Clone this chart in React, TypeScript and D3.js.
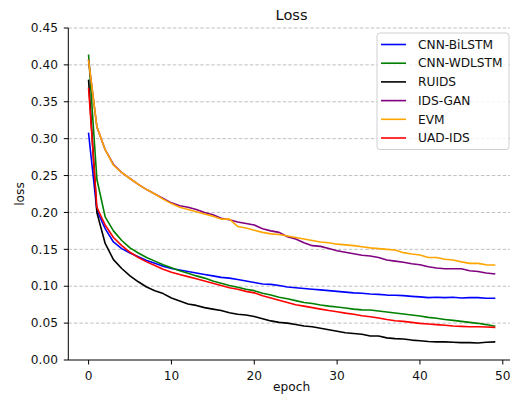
import React, { useEffect, useRef } from 'react'
import * as d3 from 'd3'

// loss per epoch
const epochs = d3.range(0, 50)

const cnnBiLstm = [
  0.307, 0.203, 0.178, 0.16, 0.151, 0.145, 0.14, 0.135, 0.131, 0.127,
  0.124, 0.122, 0.12, 0.118, 0.116, 0.114, 0.112, 0.111, 0.109, 0.107,
  0.105, 0.103, 0.1025, 0.101, 0.099, 0.098, 0.097, 0.096, 0.095, 0.094,
  0.093, 0.092, 0.091, 0.0905, 0.0895, 0.089, 0.088, 0.0878, 0.0873, 0.0863,
  0.0855, 0.0845, 0.085, 0.0845, 0.085, 0.084, 0.0845, 0.0845, 0.0836, 0.0836,
]
const cnnWdLstm = [
  0.413, 0.245, 0.194, 0.175, 0.162, 0.152, 0.145, 0.139, 0.134, 0.129,
  0.125, 0.121, 0.1175, 0.114, 0.111, 0.107, 0.104, 0.101, 0.0985, 0.096,
  0.094, 0.0905, 0.088, 0.085, 0.083, 0.0805, 0.078, 0.0765, 0.0745, 0.073,
  0.0718, 0.0705, 0.069, 0.068, 0.0678, 0.0664, 0.065, 0.0637, 0.0623, 0.061,
  0.0596, 0.0578, 0.0565, 0.055, 0.0537, 0.0524, 0.051, 0.0497, 0.048, 0.046,
]
const ruids = [
  0.379, 0.2, 0.158, 0.136, 0.124, 0.114, 0.106, 0.099, 0.094, 0.09,
  0.084, 0.08, 0.076, 0.074, 0.071, 0.069, 0.067, 0.064, 0.062, 0.061,
  0.059, 0.056, 0.053, 0.051, 0.05, 0.048, 0.046, 0.045, 0.043, 0.041,
  0.039, 0.037, 0.036, 0.035, 0.0325, 0.0325, 0.03, 0.029, 0.0285, 0.027,
  0.026, 0.025, 0.0245, 0.0245, 0.024, 0.0235, 0.0235, 0.023, 0.024, 0.0245,
]
const idsGan = [
  0.406, 0.316, 0.285, 0.265, 0.254, 0.246, 0.238, 0.231, 0.225, 0.219,
  0.213, 0.209, 0.207, 0.204, 0.2, 0.197, 0.192, 0.19, 0.187, 0.185,
  0.183, 0.178, 0.175, 0.173, 0.167, 0.164, 0.159, 0.155, 0.154, 0.151,
  0.148, 0.146, 0.144, 0.142, 0.141, 0.139, 0.1355, 0.134, 0.1324, 0.1305,
  0.129, 0.1265, 0.1247, 0.1237, 0.1237, 0.1237, 0.121, 0.12, 0.118, 0.1166,
]
const evm = [
  0.406, 0.316, 0.285, 0.264, 0.254, 0.246, 0.238, 0.231, 0.225, 0.218,
  0.212, 0.207, 0.204, 0.201, 0.198, 0.195, 0.191, 0.191, 0.181, 0.179,
  0.176, 0.173, 0.171, 0.17, 0.168, 0.166, 0.164, 0.162, 0.16, 0.159,
  0.157, 0.156, 0.155, 0.1536, 0.152, 0.151, 0.15, 0.149, 0.1455, 0.1437,
  0.1423, 0.139, 0.139, 0.1365, 0.1355, 0.133, 0.131, 0.131, 0.129, 0.1288,
]
const uadIds = [
  0.368, 0.207, 0.183, 0.166, 0.155, 0.146, 0.139, 0.133, 0.128, 0.123,
  0.119, 0.116, 0.113, 0.11, 0.107, 0.104, 0.101, 0.098, 0.096, 0.093,
  0.091, 0.087, 0.084, 0.081, 0.078, 0.075, 0.073, 0.071, 0.069, 0.067,
  0.0655, 0.0635, 0.062, 0.06, 0.0587, 0.057, 0.055, 0.0533, 0.0524, 0.051,
  0.0497, 0.0488, 0.048, 0.047, 0.046, 0.0456, 0.0451, 0.0451, 0.0447, 0.0443,
]

const seriesNames = ['CNN-BiLSTM', 'CNN-WDLSTM', 'RUIDS', 'IDS-GAN', 'EVM', 'UAD-IDS']
const seriesValues = [cnnBiLstm, cnnWdLstm, ruids, idsGan, evm, uadIds]
const seriesColors = ['#0000ff', '#008000', '#000000', '#800080', '#ffa500', '#ff0000']

const xTicks = [0, 10, 20, 30, 40, 50]
const yTicks = [0, 0.05, 0.1, 0.15, 0.2, 0.25, 0.3, 0.35, 0.4, 0.45]

const App = () => {
  const chartRef = useRef(null)

  useEffect(() => {
    if (!chartRef.current) return
    d3.select(chartRef.current).selectAll('*').remove()

    const width = 510
    const height = 400
    const font = 'DejaVu Sans, sans-serif'
    const textColor = '#111'

    const svg = d3.select(chartRef.current).attr('width', width).attr('height', height)

    // matplotlib style limits: 5% margin on x, y from 0 to 0.45
    const x = d3.scaleLinear().domain([-2.45, 51.45]).range([68.3, 514.8])
    const y = d3.scaleLinear().domain([0, 0.45]).range([360, 28])

    // dashed horizontal grid
    svg
      .append('g')
      .selectAll('line')
      .data(yTicks.slice(1))
      .enter()
      .append('line')
      .attr('x1', x.range()[0])
      .attr('x2', x.range()[1])
      .attr('y1', (d) => y(d))
      .attr('y2', (d) => y(d))
      .attr('stroke', '#b8b8b8')
      .attr('stroke-width', 0.9)
      .attr('stroke-dasharray', '3.5,2')

    // lines
    const line = d3
      .line()
      .x((d) => x(d[0]))
      .y((d) => y(d[1]))

    seriesValues.forEach((vals, i) => {
      svg
        .append('path')
        .datum(epochs.map((e) => [e, vals[e]]))
        .attr('d', line)
        .attr('fill', 'none')
        .attr('stroke', seriesColors[i])
        .attr('stroke-width', 1.6)
        .attr('stroke-linejoin', 'round')
        .attr('stroke-linecap', 'square')
    })

    // spines (left + bottom only)
    svg
      .append('line')
      .attr('x1', x.range()[0])
      .attr('x2', x.range()[0])
      .attr('y1', y.range()[0])
      .attr('y2', y.range()[1])
      .attr('stroke', '#000')
      .attr('stroke-width', 1)
    svg
      .append('line')
      .attr('x1', x.range()[0])
      .attr('x2', x.range()[1])
      .attr('y1', y.range()[0])
      .attr('y2', y.range()[0])
      .attr('stroke', '#000')
      .attr('stroke-width', 1)

    // y ticks
    yTicks.forEach((t) => {
      svg
        .append('line')
        .attr('x1', x.range()[0] - 4.5)
        .attr('x2', x.range()[0])
        .attr('y1', y(t))
        .attr('y2', y(t))
        .attr('stroke', '#000')
      svg
        .append('text')
        .attr('x', 58)
        .attr('y', y(t))
        .attr('dy', '0.35em')
        .attr('text-anchor', 'end')
        .attr('fill', textColor)
        .style('font-family', font)
        .style('font-size', '12.2px')
        .text(d3.format('.2f')(t))
    })

    // x ticks
    xTicks.forEach((t) => {
      svg
        .append('line')
        .attr('x1', x(t))
        .attr('x2', x(t))
        .attr('y1', y.range()[0])
        .attr('y2', y.range()[0] + 4.5)
        .attr('stroke', '#000')
      svg
        .append('text')
        .attr('x', x(t))
        .attr('y', 380)
        .attr('text-anchor', 'middle')
        .attr('fill', textColor)
        .style('font-family', font)
        .style('font-size', '12.2px')
        .text(t)
    })

    const midX = (x.range()[0] + x.range()[1]) / 2

    // title + axis labels
    svg
      .append('text')
      .attr('x', midX)
      .attr('y', 20)
      .attr('text-anchor', 'middle')
      .attr('fill', textColor)
      .style('font-family', font)
      .style('font-size', '14.6px')
      .text('Loss')
    svg
      .append('text')
      .attr('x', midX)
      .attr('y', 391)
      .attr('text-anchor', 'middle')
      .attr('fill', textColor)
      .style('font-family', font)
      .style('font-size', '12.2px')
      .text('epoch')
    svg
      .append('text')
      .attr('transform', `translate(24, ${(y.range()[0] + y.range()[1]) / 2}) rotate(-90)`)
      .attr('text-anchor', 'middle')
      .attr('fill', textColor)
      .style('font-family', font)
      .style('font-size', '12.2px')
      .text('loss')

    // legend
    const legend = svg.append('g')
    legend
      .append('rect')
      .attr('x', 377)
      .attr('y', 33)
      .attr('width', 132)
      .attr('height', 116.5)
      .attr('rx', 3)
      .attr('fill', '#fff')
      .attr('fill-opacity', 0.8)
      .attr('stroke', '#d0d0d0')
    seriesNames.forEach((name, i) => {
      const rowY = 44.5 + i * 18.7
      legend
        .append('line')
        .attr('x1', 381)
        .attr('x2', 406)
        .attr('y1', rowY)
        .attr('y2', rowY)
        .attr('stroke', seriesColors[i])
        .attr('stroke-width', 1.6)
      legend
        .append('text')
        .attr('x', 418)
        .attr('y', rowY)
        .attr('dy', '0.35em')
        .attr('fill', textColor)
        .style('font-family', font)
        .style('font-size', '12.2px')
        .text(name)
    })
  }, [])

  return (
    <svg
      ref={chartRef}
      width="510"
      height="400"
      style={{ position: 'absolute', left: 0, top: 0, background: '#fff' }}
    />
  )
}

export default App
